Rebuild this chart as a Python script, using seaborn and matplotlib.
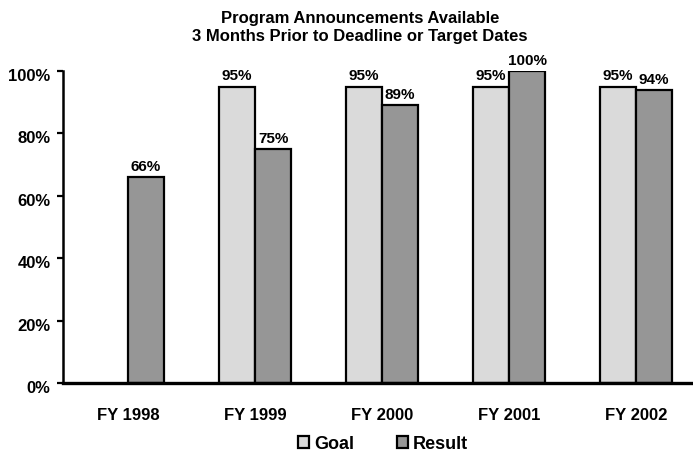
import matplotlib
matplotlib.use("Agg")
import matplotlib.pyplot as plt
import matplotlib.transforms as mtransforms
import seaborn as sns
import pandas as pd
import numpy as np
from matplotlib.patches import Patch

years = ["FY 1998", "FY 1999", "FY 2000", "FY 2001", "FY 2002"]
goal = [np.nan, 95, 95, 95, 95]
result = [66, 75, 89, 100, 94]
series = ["Goal", "Result"]
colors = {"Goal": "#DADADA", "Result": "#969696"}
yticks = [0, 20, 40, 60, 80, 100]

df = pd.DataFrame({
    "year": years * 2,
    "series": ["Goal"] * len(years) + ["Result"] * len(years),
    "value": goal + result,
})

sns.set_style("white")
plt.rcParams["font.family"] = ["Liberation Sans", "DejaVu Sans"]
plt.rcParams["font.weight"] = "bold"
plt.rcParams["text.color"] = "black"
plt.rcParams["axes.labelcolor"] = "black"
plt.rcParams["xtick.color"] = "black"
plt.rcParams["ytick.color"] = "black"

fig = plt.figure(figsize=(6.93, 4.56), dpi=100)
ax = fig.add_axes([63 / 693, 1 - 384 / 456, 1 - 63 / 693, (384 - 72) / 456])

sns.barplot(data=df, x="year", y="value", hue="series", order=years,
            hue_order=series, palette=colors, width=0.57, gap=0,
            edgecolor="black", linewidth=1.6, errorbar=None, ax=ax,
            legend=False, saturation=1)

for cont in ax.containers:
    labels = [("" if np.isnan(v) else f"{int(v)}%") for v in cont.datavalues]
    ax.bar_label(cont, labels=labels, padding=3, fontsize=11, fontweight="bold",
                 color="black")

ax.set_xlim(-0.512, 4.449)
ax.set_ylim(0, 100)
ax.set_yticks(yticks)
ax.set_yticklabels([f"{t}%" for t in yticks], fontsize=12, fontweight="bold")
ax.tick_params(axis="y", left=True, length=4, width=1.6, pad=5, direction="out",
               colors="black")
ax.tick_params(axis="x", length=0, pad=17, labelsize=12, colors="black")
for lab in ax.get_xticklabels():
    lab.set_fontweight("bold")
offset = mtransforms.ScaledTranslation(0, -3 / 100, fig.dpi_scale_trans)
for lab in ax.get_yticklabels():
    lab.set_transform(lab.get_transform() + offset)
ax.set_xlabel("")
ax.set_ylabel("")
for s in ["top", "right"]:
    ax.spines[s].set_visible(False)
ax.spines["left"].set_linewidth(1.8)
ax.spines["bottom"].set_linewidth(2.4)
ax.spines["left"].set_color("black")
ax.spines["bottom"].set_color("black")

fig.text(360 / 693, 1 - 18 / 456, "Program Announcements Available",
         ha="center", va="center", fontsize=12, fontweight="bold", color="black")
fig.text(360 / 693, 1 - 36 / 456, "3 Months Prior to Deadline or Target Dates",
         ha="center", va="center", fontsize=12, fontweight="bold", color="black")

handles = [Patch(facecolor=colors[s], edgecolor="black", linewidth=1.6) for s in series]
leg = fig.legend(handles, series, loc="center", bbox_to_anchor=(383 / 693, 1 - 445 / 456),
                 ncol=2, frameon=False, handlelength=0.6, handleheight=0.6,
                 handletextpad=0.25, columnspacing=2.4, borderpad=0,
                 prop={"size": 13, "weight": "bold"})
for t in leg.get_texts():
    t.set_color("black")

fig.savefig("out.png", dpi=100)
